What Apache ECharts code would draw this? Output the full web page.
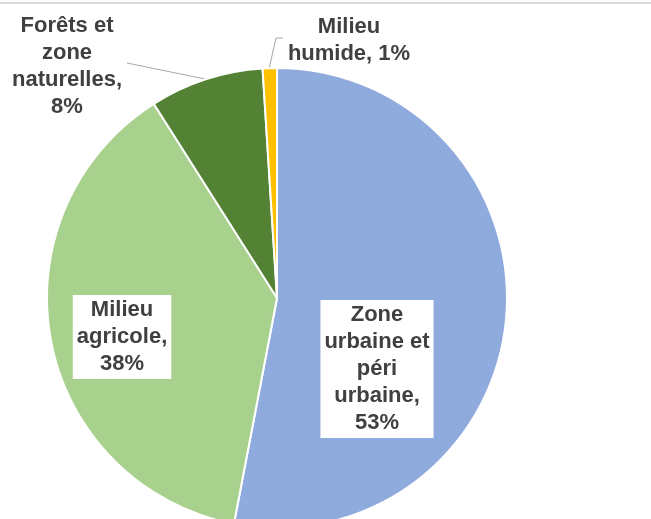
<!DOCTYPE html>
<html>
<head>
<meta charset="utf-8">
<script src="https://cdn.jsdelivr.net/npm/echarts@6/dist/echarts.min.js"></script>
<style>html,body{margin:0;padding:0;background:#fff;}#c{width:651px;height:519px;}</style>
</head>
<body>
<div id="c"></div>
<script>
var categories = ['Zone urbaine et péri urbaine', 'Milieu agricole', 'Forêts et zone naturelles', 'Milieu humide'];
var values = [53, 38, 8, 1];
var labelTexts = ['Zone\nurbaine et\npéri\nurbaine,\n53%', 'Milieu\nagricole,\n38%', 'Forêts et\nzone\nnaturelles,\n8%', 'Milieu\nhumide, 1%'];
var colors = ['#8FAADC', '#A9D18E', '#548235', '#FFC000'];

var labelPos = [
  {x: 377, y: 369},
  {x: 122, y: 337},
  {x: 67, y: 66, line: [[127, 63], [205, 79]]},
  {x: 349, y: 40, line: [[283, 38], [276, 38], [269, 69]]}
];

var data = categories.map(function (c, i) {
  var inside = i < 2;
  return {
    name: c,
    value: values[i],
    itemStyle: {color: colors[i]},
    label: {
      position: inside ? 'inside' : 'outside',
      backgroundColor: inside ? '#ffffff' : 'transparent',
      padding: inside ? [2, 4, 1, 4] : 0,
      formatter: function () { return labelTexts[i]; }
    },
    labelLine: {show: !inside}
  };
});

var chart = echarts.init(document.getElementById('c'), null, {renderer: 'canvas'});
chart.setOption({
  animation: false,
  backgroundColor: '#ffffff',
  graphic: [{
    type: 'rect',
    shape: {x: 0, y: 2, width: 651, height: 2},
    style: {fill: '#d9d9d9'}
  }],
  series: [{
    type: 'pie',
    center: [277, 298],
    radius: 230,
    startAngle: 90,
    clockwise: true,
    avoidLabelOverlap: false,
    itemStyle: {borderColor: '#ffffff', borderWidth: 2},
    label: {
      show: true,
      color: '#404040',
      fontFamily: 'Liberation Sans, Arial, sans-serif',
      fontWeight: 'bold',
      fontSize: 22,
      lineHeight: 27,
      align: 'center'
    },
    labelLine: {lineStyle: {color: '#a6a6a6', width: 1}},
    labelLayout: function (p) {
      var lp = labelPos[p.dataIndex];
      var o = {x: lp.x, y: lp.y, align: 'center', verticalAlign: 'middle'};
      if (lp.line) o.labelLinePoints = lp.line;
      return o;
    },
    data: data
  }]
});
</script>
</body>
</html>
